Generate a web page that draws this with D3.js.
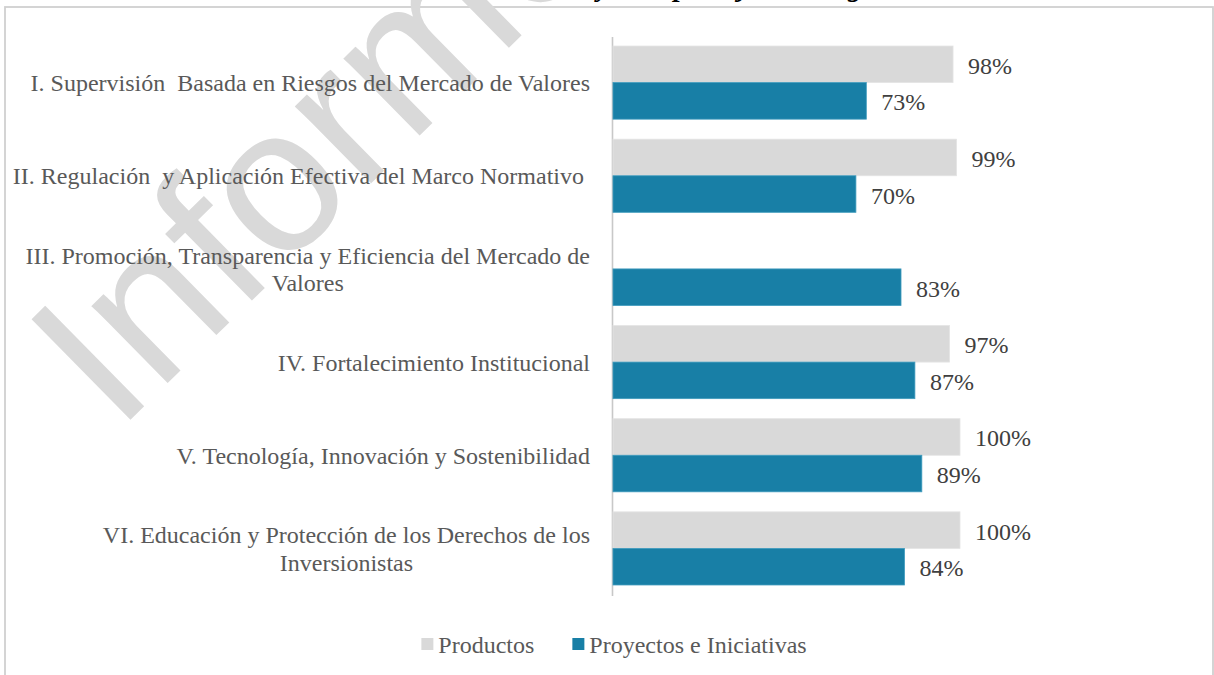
<!DOCTYPE html>
<html>
<head>
<meta charset="utf-8">
<script src="https://cdn.jsdelivr.net/npm/d3@7"></script>
<style>
    body { margin: 0; background: #fff; }
    svg { display: block; }
</style>
</head>
<body>
<svg width="1214" height="675"></svg>
<script>
// datos del grafico
const categorias = [
    ["I. Supervisión  Basada en Riesgos del Mercado de Valores"],
    ["II. Regulación  y Aplicación Efectiva del Marco Normativo "],
    ["III. Promoción, Transparencia y Eficiencia del Mercado de", "Valores"],
    ["IV. Fortalecimiento Institucional"],
    ["V. Tecnología, Innovación y Sostenibilidad"],
    ["VI. Educación y Protección de los Derechos de los", "Inversionistas"]
];
const productos = [98, 99, null, 97, 100, 100];
const proyectos = [73, 70, 83, 87, 89, 84];
const series = ["Productos", "Proyectos e Iniciativas"];
const colores = ["#d9d9d9", "#187fa6"];

const svg = d3.select("svg");
const serif = "'Liberation Serif', 'Times New Roman', serif";

// filas: una por eje, con sus dos valores
const filas = categorias.map((c, i) => ({
    id: i,
    lineas: c,
    valores: [
        { serie: series[0], v: productos[i], color: colores[0] },
        { serie: series[1], v: proyectos[i], color: colores[1] }
    ]
}));

// marco
svg.append("rect")
    .attr("x", 5).attr("y", 7)
    .attr("width", 1208).attr("height", 700)
    .attr("fill", "none")
    .attr("stroke", "#d0d0d0")
    .attr("stroke-width", 1.8);

// titulo (cortado arriba, solo asoman los trazos bajos)
const titulo = svg.append("text")
    .attr("y", -4)
    .attr("font-family", serif)
    .attr("font-size", 28)
    .attr("font-weight", "bold")
    .attr("font-style", "italic")
    .attr("fill", "#000")
    .text("Nivel de Avance de los Proyectos por Eje Estratégico");
const idx = titulo.text().indexOf("yectos");
titulo.attr("x", 597 - titulo.node().getSubStringLength(0, idx));

// marca de agua
svg.append("text")
    .attr("transform", "translate(117,433) rotate(-44.5)")
    .attr("font-family", "'Liberation Sans', Arial, sans-serif")
    .attr("font-size", 205)
    .attr("fill", "#d9d9d9")
    .text("Informe");

// escalas
const y = d3.scaleBand()
    .domain(filas.map(d => d.id))
    .range([36, 595])
    .paddingInner(0.215)
    .paddingOuter(0.1075);

const ySub = d3.scaleBand()
    .domain(series)
    .range([0, y.bandwidth()]);

const x = d3.scaleLinear()
    .domain([0, 100])
    .range([613, 960]);

// eje vertical
svg.append("g")
    .attr("transform", "translate(612.5,0)")
    .call(d3.axisLeft(y).tickSize(0).tickFormat(""))
    .call(g => g.select(".domain")
        .attr("d", "M0,37V596")
        .attr("stroke", "#c8c8c8")
        .attr("stroke-width", 1.6));

// etiquetas de categorias
const etiquetas = svg.append("g")
    .attr("font-family", serif)
    .attr("font-size", 24)
    .attr("fill", "#595959");

filas.forEach(d => {
    const cy = y(d.id) + y.bandwidth() / 2;
    const t = etiquetas.append("text")
        .attr("text-anchor", "middle")
        .style("white-space", "pre");
    const n = d.lineas.length;
    const tsp = d.lineas.map((l, k) => t.append("tspan")
        .attr("y", cy + 8.5 + (k - (n - 1) / 2) * 27.5)
        .text(l));
    const w = d3.max(tsp, s => s.node().getComputedTextLength());
    tsp.forEach(s => s.attr("x", 590 - w / 2));
});

// barras
const grupos = svg.append("g")
    .selectAll("g")
    .data(filas)
    .join("g")
    .attr("transform", d => `translate(0,${y(d.id)})`);

const celdas = grupos.selectAll("g")
    .data(d => d.valores.filter(v => v.v != null))
    .join("g");

celdas.append("rect")
    .attr("x", x(0))
    .attr("y", d => ySub(d.serie))
    .attr("width", d => x(d.v) - x(0))
    .attr("height", ySub.bandwidth())
    .attr("fill", d => d.color)
    .attr("stroke", d => d.serie === series[1] ? "#3f9bbd" : "#e4e4e4")
    .attr("stroke-width", 0.8);

celdas.append("text")
    .attr("x", d => x(d.v) + 15)
    .attr("y", d => ySub(d.serie) + ySub.bandwidth() / 2 + 9.5)
    .attr("font-family", serif)
    .attr("font-size", 24)
    .attr("fill", "#404040")
    .text(d => d.v + "%");

// leyenda
const leyenda = svg.append("g")
    .attr("font-family", serif)
    .attr("font-size", 24)
    .attr("fill", "#595959");

let lx = 0;
const items = series.map((s, i) => {
    const g = leyenda.append("g");
    g.append("rect")
        .attr("y", 638)
        .attr("width", 12).attr("height", 12)
        .attr("fill", colores[i]);
    const t = g.append("text")
        .attr("x", 17)
        .attr("y", 653)
        .text(s);
    const w = 17 + t.node().getComputedTextLength();
    const pos = lx;
    lx += w + 38;
    return { g, pos };
});
const total = lx - 38;
const inicio = 614 - total / 2;
items.forEach(it => it.g.attr("transform", `translate(${inicio + it.pos},0)`));
</script>
</body>
</html>
